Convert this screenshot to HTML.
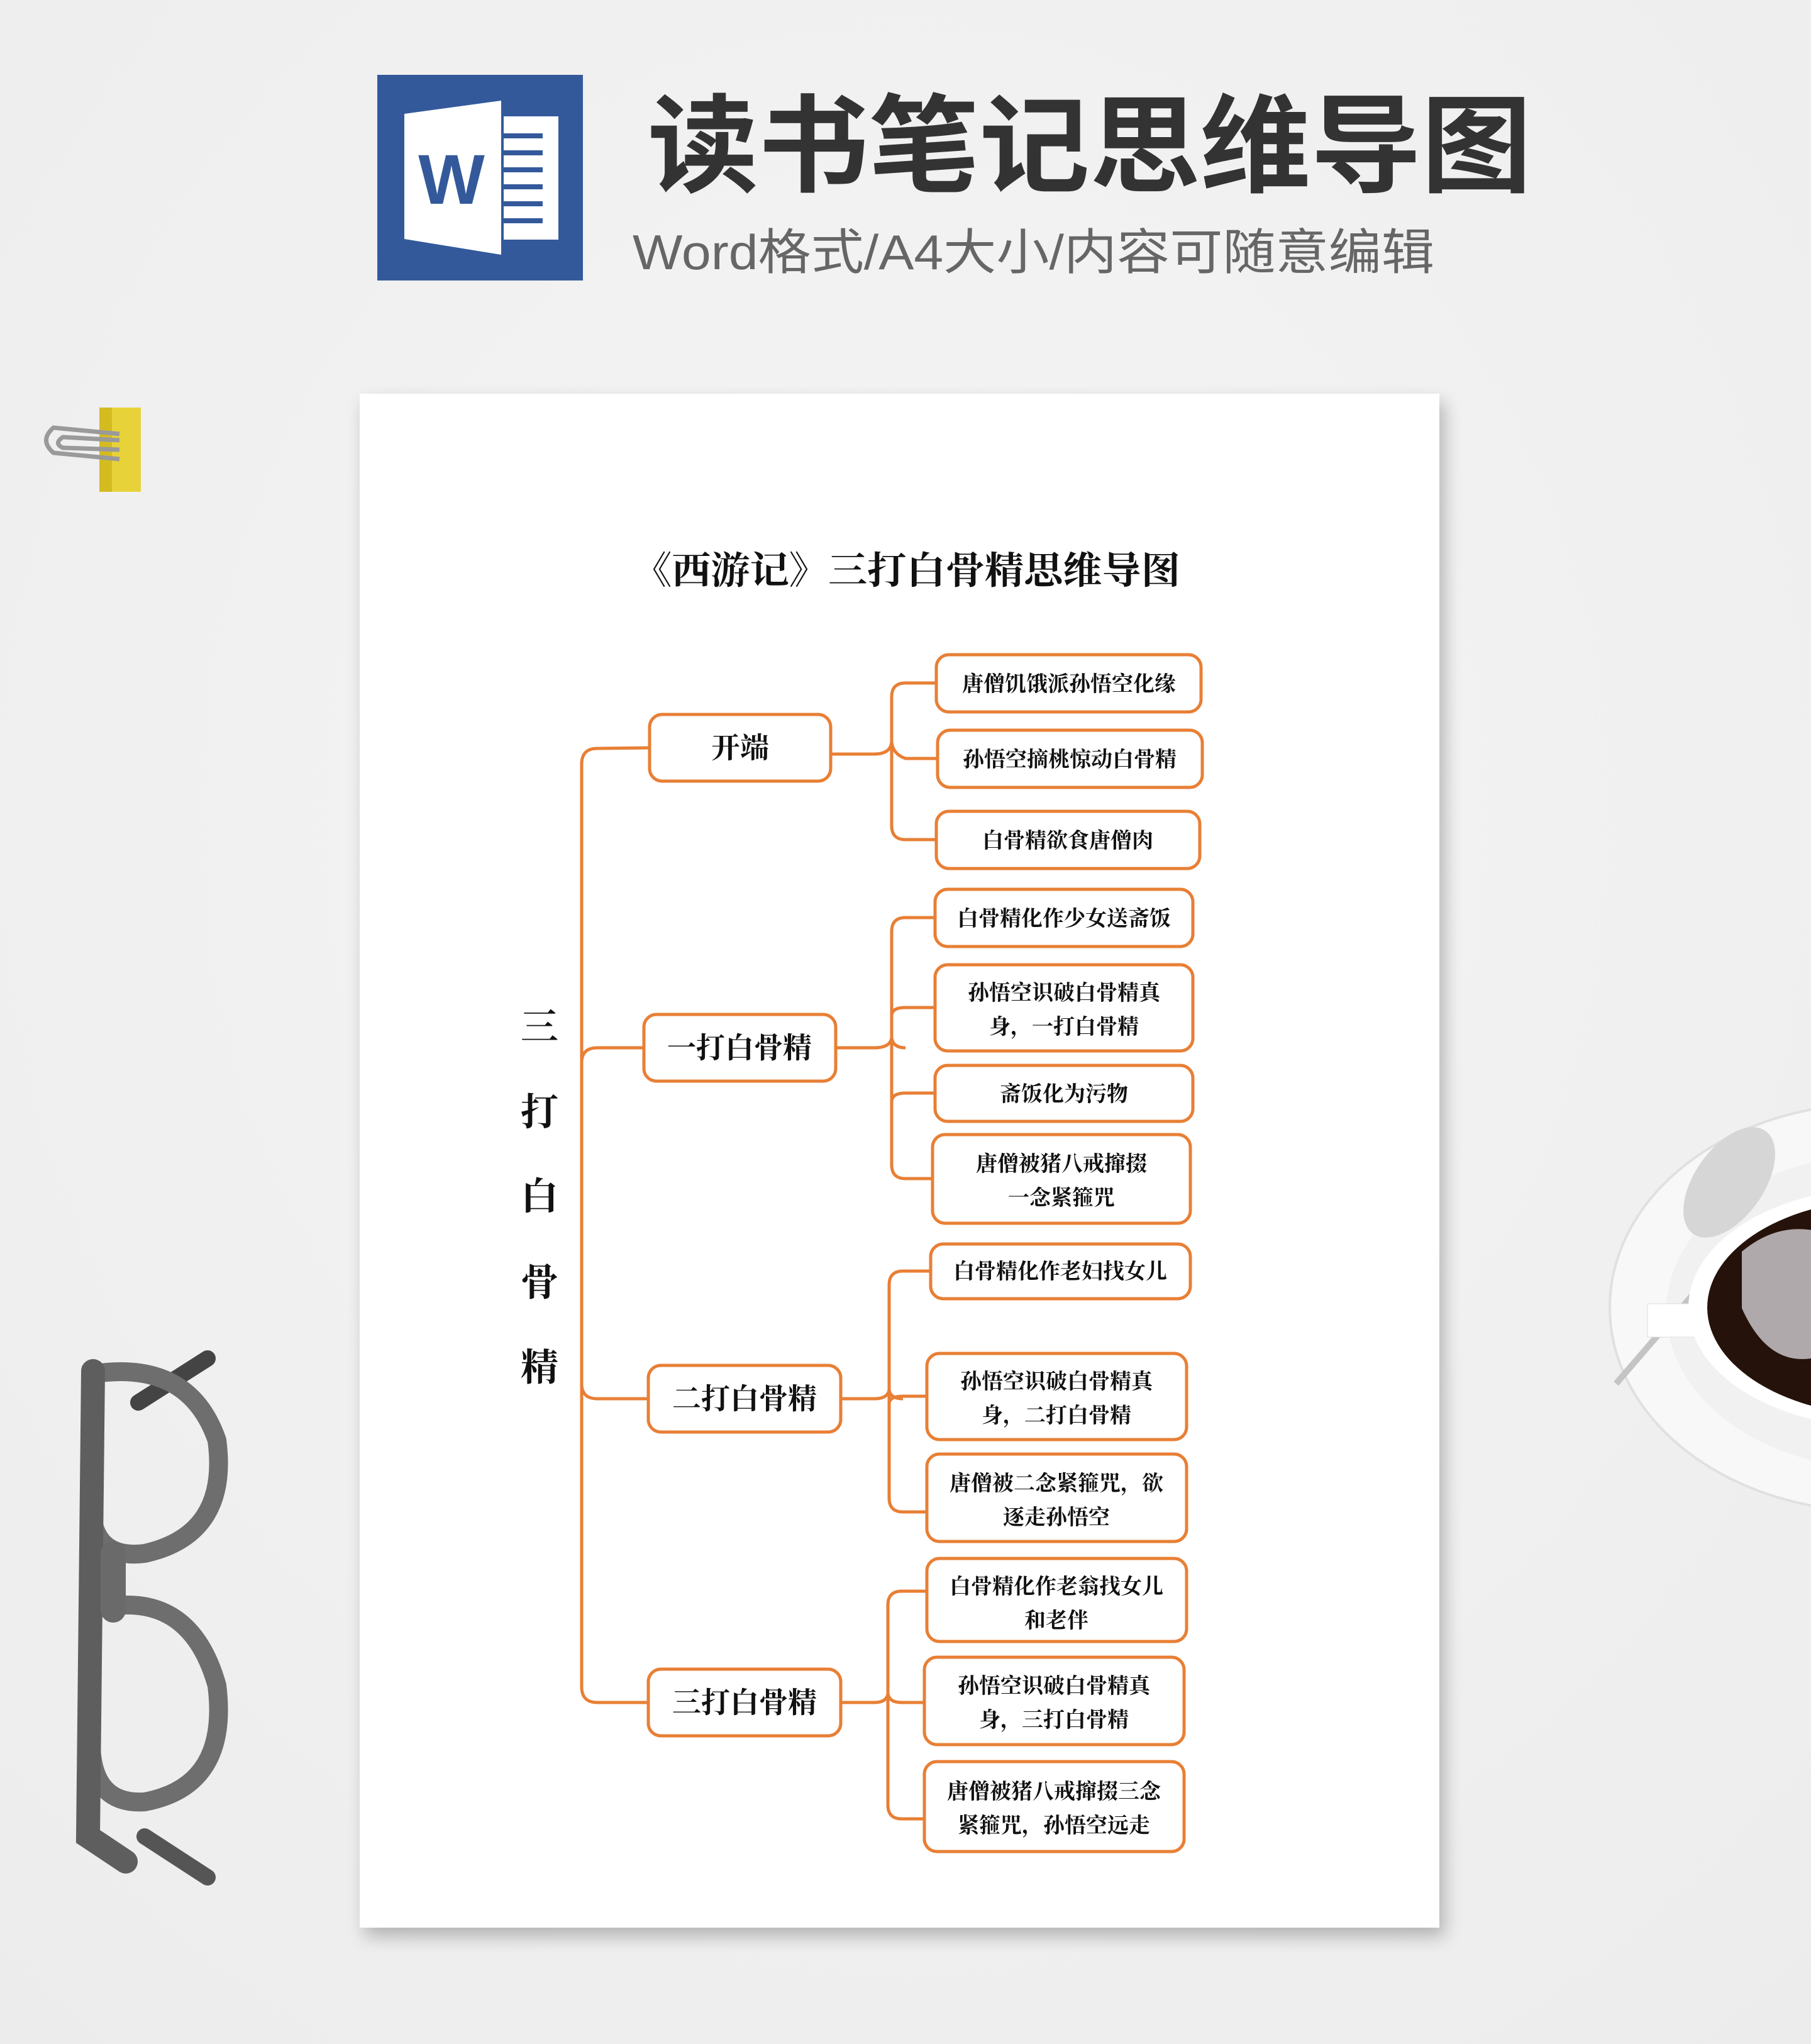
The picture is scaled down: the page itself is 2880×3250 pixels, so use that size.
<!DOCTYPE html>
<html><head><meta charset="utf-8"><style>
html,body{margin:0;padding:0;width:2880px;height:3250px;overflow:hidden;background:#f1f1f1}
svg{display:block}
</style></head><body>
<svg width="2880" height="3250" viewBox="0 0 2880 3250" xmlns="http://www.w3.org/2000/svg">
<defs>
<radialGradient id="bg" cx="50%" cy="40%" r="80%"><stop offset="0" stop-color="#f5f5f5"/><stop offset="1" stop-color="#ececec"/></radialGradient>
<filter id="sh" x="-5%" y="-5%" width="110%" height="110%"><feGaussianBlur stdDeviation="14"/></filter>
</defs>
<rect width="2880" height="3250" fill="url(#bg)"/>
<!-- word icon -->
<rect x="600" y="119" width="327" height="327" fill="#34599b"/>
<polygon points="643,181 797,160 797,405 643,380" fill="#fff"/>
<rect x="801" y="185" width="87" height="196" fill="#fff"/>
<g fill="#34599b"><rect x="801" y="212" width="62" height="8"/><rect x="801" y="239" width="62" height="8"/><rect x="801" y="266" width="62" height="8"/><rect x="801" y="293" width="62" height="8"/><rect x="801" y="320" width="62" height="8"/><rect x="801" y="347" width="62" height="8"/></g>
<text x="718" y="324" font-family="Liberation Sans, sans-serif" font-weight="bold" font-size="112" fill="#34599b" text-anchor="middle">W</text>
<!-- titles -->
<text x="1030" y="292" font-family="Liberation Sans, Noto Sans CJK SC, sans-serif" font-weight="bold" font-size="170" fill="#333" textLength="1406" lengthAdjust="spacingAndGlyphs">读书笔记思维导图</text>
<text x="1006" y="428" font-family="Liberation Sans, Noto Sans CJK SC, sans-serif" font-size="78" fill="#666" textLength="1275" lengthAdjust="spacingAndGlyphs">Word格式/A4大小/内容可随意编辑</text>
<!-- clip -->
<rect x="158" y="648" width="66" height="134" fill="#e8d23a"/>
<rect x="158" y="648" width="20" height="134" fill="#d4bb20"/>
<path d="M190 690 L85 680 Q62 700 85 720 L190 730 M190 700 L100 695 Q85 705 100 712 L190 715" fill="none" stroke="#9a9a9a" stroke-width="7"/>
<!-- glasses -->
<g fill="none" stroke-linecap="round">
<path d="M220 2230 L330 2160" stroke="#444" stroke-width="26"/>
<path d="M230 2920 L330 2985" stroke="#555" stroke-width="26"/>
<path d="M145 2185 Q300 2160 345 2290 Q365 2440 230 2470 Q150 2480 145 2400 Z" stroke="#6e6e6e" stroke-width="30"/>
<path d="M145 2560 Q300 2520 345 2680 Q365 2840 230 2865 Q150 2870 145 2780 Z" stroke="#6e6e6e" stroke-width="30"/>
<path d="M148 2180 L140 2920 L200 2960" stroke="#5e5e5e" stroke-width="38"/>
<path d="M180 2470 L180 2560" stroke="#6a6a6a" stroke-width="40"/>
</g>
<!-- coffee -->
<ellipse cx="2980" cy="2079" rx="420" ry="324" fill="#f8f8f8" stroke="#e0e0e0" stroke-width="4"/>
<ellipse cx="2990" cy="2085" rx="340" ry="250" fill="#f1f1f1"/>
<path d="M2570 2200 L2760 1980" stroke="#c4c4c4" stroke-width="10"/>
<ellipse cx="2750" cy="1880" rx="55" ry="100" transform="rotate(35 2750 1880)" fill="#d6d6d6"/>
<rect x="2620" y="2073" width="80" height="53" fill="#fff" stroke="#ddd"/>
<ellipse cx="2990" cy="2079" rx="305" ry="190" fill="#fff"/>
<ellipse cx="3000" cy="2079" rx="285" ry="172" fill="#25130b"/>
<path d="M2770 1990 Q2830 1940 2900 1960 L2880 2160 Q2810 2170 2770 2080 Z" fill="#c9c4c8" opacity="0.85"/>
<!-- paper -->
<rect x="580" y="640" width="1717" height="2439" fill="#000" opacity="0.25" filter="url(#sh)"/>
<rect x="572" y="626" width="1717" height="2439" fill="#fff"/>
<text x="1006" y="928" font-family="Liberation Serif, Noto Serif CJK SC, serif" font-weight="bold" font-size="60" fill="#111" textLength="871" lengthAdjust="spacingAndGlyphs">《西游记》三打白骨精思维导图</text>
<g font-family="Liberation Serif, Noto Serif CJK SC, serif" font-weight="bold" font-size="60" fill="#111" text-anchor="middle">
<text x="858" y="1654">三</text><text x="858" y="1789">打</text><text x="858" y="1923">白</text><text x="858" y="2060">骨</text><text x="858" y="2195">精</text>
</g>
<!-- connectors -->
<g fill="none" stroke="#e87f35" stroke-width="5">
<path d="M1033 1189 L950 1190 Q925 1190 925 1215 L925 2682 Q925 2707 950 2707 L1031 2707"/>
<path d="M925 1690 Q925 1666 950 1666 L1024 1666"/>
<path d="M925 2200 Q925 2224 950 2224 L1031 2224"/>
<path d="M1321 1199 L1390 1199 Q1416 1199 1418 1180 Q1420 1199 1440 1206 L1491 1206"/>
<path d="M1489 1086 L1440 1086 Q1418 1086 1418 1108 L1418 1313 Q1418 1335 1440 1335 L1489 1335"/>
<path d="M1329 1666 L1390 1666 Q1416 1666 1418 1650 Q1420 1666 1440 1666"/>
<path d="M1487 1459 L1440 1459 Q1418 1459 1418 1481 L1418 1852 Q1418 1874 1440 1874 L1483 1874"/>
<path d="M1418 1615 Q1418 1602 1440 1602 L1487 1602"/>
<path d="M1418 1752 Q1418 1738 1440 1738 L1487 1738"/>
<path d="M1337 2224 L1390 2224 Q1412 2224 1414 2210 Q1416 2224 1436 2224"/>
<path d="M1480 2021 L1436 2021 Q1414 2021 1414 2043 L1414 2382 Q1414 2404 1436 2404 L1474 2404"/>
<path d="M1414 2232 Q1414 2220 1436 2220 L1474 2220"/>
<path d="M1337 2707 L1390 2707 Q1410 2707 1412 2693 Q1414 2707 1434 2707 L1470 2707"/>
<path d="M1474 2530 L1434 2530 Q1412 2530 1412 2552 L1412 2870 Q1412 2892 1434 2892 L1470 2892"/>
</g>
<!-- boxes -->
<g fill="#fff" stroke="#e87f35" stroke-width="5">
<rect x="1033" y="1136" width="288" height="106" rx="20"/>
<rect x="1024" y="1613" width="305" height="106" rx="20"/>
<rect x="1031" y="2171" width="306" height="106" rx="20"/>
<rect x="1031" y="2654" width="306" height="106" rx="20"/>
<rect x="1489" y="1041" width="421" height="91" rx="20"/>
<rect x="1491" y="1161" width="421" height="91" rx="20"/>
<rect x="1489" y="1290" width="419" height="91" rx="20"/>
<rect x="1487" y="1414" width="410" height="91" rx="20"/>
<rect x="1487" y="1534" width="410" height="137" rx="20"/>
<rect x="1487" y="1694" width="410" height="89" rx="20"/>
<rect x="1483" y="1804" width="410" height="141" rx="20"/>
<rect x="1480" y="1978" width="413" height="87" rx="20"/>
<rect x="1474" y="2152" width="413" height="137" rx="20"/>
<rect x="1474" y="2312" width="413" height="139" rx="20"/>
<rect x="1474" y="2478" width="413" height="132" rx="20"/>
<rect x="1470" y="2635" width="413" height="139" rx="20"/>
<rect x="1470" y="2801" width="413" height="143" rx="20"/>
</g>
<g font-family="Liberation Serif, Noto Serif CJK SC, serif" font-weight="bold" fill="#111" text-anchor="middle">
<g font-size="46">
<text x="1177" y="1205">开端</text>
<text x="1176" y="1682">一打白骨精</text>
<text x="1184" y="2240">二打白骨精</text>
<text x="1184" y="2723">三打白骨精</text>
</g>
<g font-size="34">
<text x="1700" y="1099">唐僧饥饿派孙悟空化缘</text>
<text x="1701" y="1219">孙悟空摘桃惊动白骨精</text>
<text x="1698" y="1348">白骨精欲食唐僧肉</text>
<text x="1692" y="1472">白骨精化作少女送斋饭</text>
<text x="1692" y="1590">孙悟空识破白骨精真</text><text x="1692" y="1644">身，一打白骨精</text>
<text x="1692" y="1751">斋饭化为污物</text>
<text x="1688" y="1862">唐僧被猪八戒撺掇</text><text x="1688" y="1916">一念紧箍咒</text>
<text x="1686" y="2033">白骨精化作老妇找女儿</text>
<text x="1680" y="2208">孙悟空识破白骨精真</text><text x="1680" y="2262">身，二打白骨精</text>
<text x="1680" y="2370">唐僧被二念紧箍咒，欲</text><text x="1680" y="2424">逐走孙悟空</text>
<text x="1680" y="2534">白骨精化作老翁找女儿</text><text x="1680" y="2588">和老伴</text>
<text x="1676" y="2692">孙悟空识破白骨精真</text><text x="1676" y="2746">身，三打白骨精</text>
<text x="1676" y="2860">唐僧被猪八戒撺掇三念</text><text x="1676" y="2914">紧箍咒，孙悟空远走</text>
</g>
</g>
</svg>
</body></html>
